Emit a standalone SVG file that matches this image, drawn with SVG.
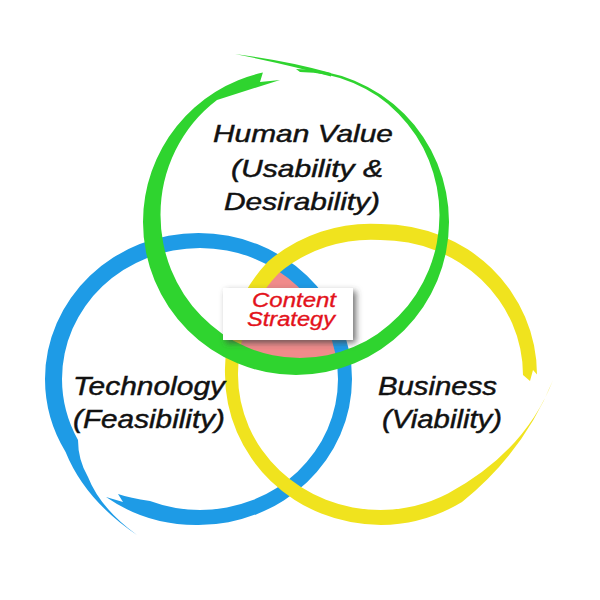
<svg xmlns="http://www.w3.org/2000/svg" width="600" height="600" viewBox="0 0 600 600">
  <style>
    .lbl { font-family: "Liberation Sans", Arial, sans-serif; font-style: italic; fill: #111; stroke: #111; stroke-width: 0.45; }
    .cs { font-family: "Liberation Sans", Arial, sans-serif; font-style: italic; fill: #e3121b; stroke: #e3121b; stroke-width: 0.35; font-size: 20px; }
  </style>
  <defs>
    <clipPath id="cg"><ellipse cx="298" cy="218" rx="146" ry="150"/></clipPath>
    <clipPath id="cb"><ellipse cx="199" cy="379" rx="146" ry="138"/></clipPath>
    <clipPath id="cy"><ellipse cx="381" cy="375" rx="153" ry="146"/></clipPath>
    <filter id="sh" x="-20%" y="-30%" width="150%" height="170%">
      <feDropShadow dx="3" dy="3" stdDeviation="3" flood-color="#444" flood-opacity="0.75"/>
    </filter>
  </defs>
  <rect width="600" height="600" fill="#fff"/>

  <!-- centre intersection -->
  <g clip-path="url(#cg)">
    <g clip-path="url(#cb)">
      <rect x="0" y="0" width="600" height="600" fill="#f08b8b" clip-path="url(#cy)"/>
    </g>
  </g>

  <g id="rings">
    <path id="ring-technology" fill="#1e9be6" d="M 106,497 A 153.5 146 0 0 0 198.5,525 A 153.5 146 0 0 0 352,379 A 153.5 146 0 0 0 198.5,233 A 153.5 146 0 0 0 45,379 A 153.5 146 0 0 0 65.6,452 Q 85,500 137,535 Q 100,508 88,477 Q 78,460 78,440 A 138 131 0 0 1 62,379 A 138 131 0 0 1 200,248 A 138 131 0 0 1 338,379 A 138 131 0 0 1 200,510 A 138 131 0 0 1 150,501 Q 130,498 118,494 L 123,502 L 106,497 Z"/>
    <path id="ring-business" fill="#f0e31e" d="M 553,380 Q 524,452 462,502 A 156 150.5 0 0 1 381,525 A 156 150.5 0 0 1 225,374.5 A 158 158 0 0 1 268,261.5 A 158 158 0 0 1 381,224 A 156 150.5 0 0 1 537,374.5 L 533,370 L 530,381 L 523,375 A 142.5 135 0 0 0 380.5,240 A 144 144 0 0 0 278.7,273.2 A 144 144 0 0 0 238,375 A 142.5 135 0 0 0 380.5,510 A 142.5 135 0 0 0 448,493.5 Q 525,452 553,380 Z"/>
    <path id="ring-human" fill="#2fd42f" d="M 296,69 A 153 153 0 0 1 449,222 A 153 153 0 0 1 296,375 A 153 153 0 0 1 143,222 A 153 153 0 0 1 262.9,72.6 L 260,82 L 280,80 L 217,100 A 139.5 143 0 0 0 160.5,215 A 139.5 143 0 0 0 300,358 A 139.5 143 0 0 0 439.5,215 A 139.5 143 0 0 0 300,72 Z"/>
    <path id="ring-human-tail" fill="#2fd42f" d="M 235,54 Q 290,61 331,73 L 331,76.5 Q 290,65 235,54 Z"/>
  </g>

  <g id="node-human-value">
    <text class="lbl" font-size="24" x="213" y="142" textLength="180" lengthAdjust="spacingAndGlyphs">Human Value</text>
    <text class="lbl" font-size="24" x="231" y="177" textLength="152" lengthAdjust="spacingAndGlyphs">(Usability &amp;</text>
    <text class="lbl" font-size="24" x="224" y="210" textLength="156" lengthAdjust="spacingAndGlyphs">Desirability)</text>
  </g>
  <g id="node-technology">
    <text class="lbl" font-size="25.5" x="73" y="395" textLength="152" lengthAdjust="spacingAndGlyphs">Technology</text>
    <text class="lbl" font-size="25.5" x="73" y="428" textLength="152" lengthAdjust="spacingAndGlyphs">(Feasibility)</text>
  </g>
  <g id="node-business">
    <text class="lbl" font-size="25.5" x="378" y="395" textLength="119" lengthAdjust="spacingAndGlyphs">Business</text>
    <text class="lbl" font-size="25.5" x="382" y="428" textLength="120" lengthAdjust="spacingAndGlyphs">(Viability)</text>
  </g>
  <g id="node-content-strategy">
    <rect x="223" y="288" width="130" height="52" fill="#fff" filter="url(#sh)"/>
    <text class="cs" x="252" y="307" textLength="84" lengthAdjust="spacingAndGlyphs">Content</text>
    <text class="cs" x="247" y="326" textLength="88" lengthAdjust="spacingAndGlyphs">Strategy</text>
  </g>
</svg>
